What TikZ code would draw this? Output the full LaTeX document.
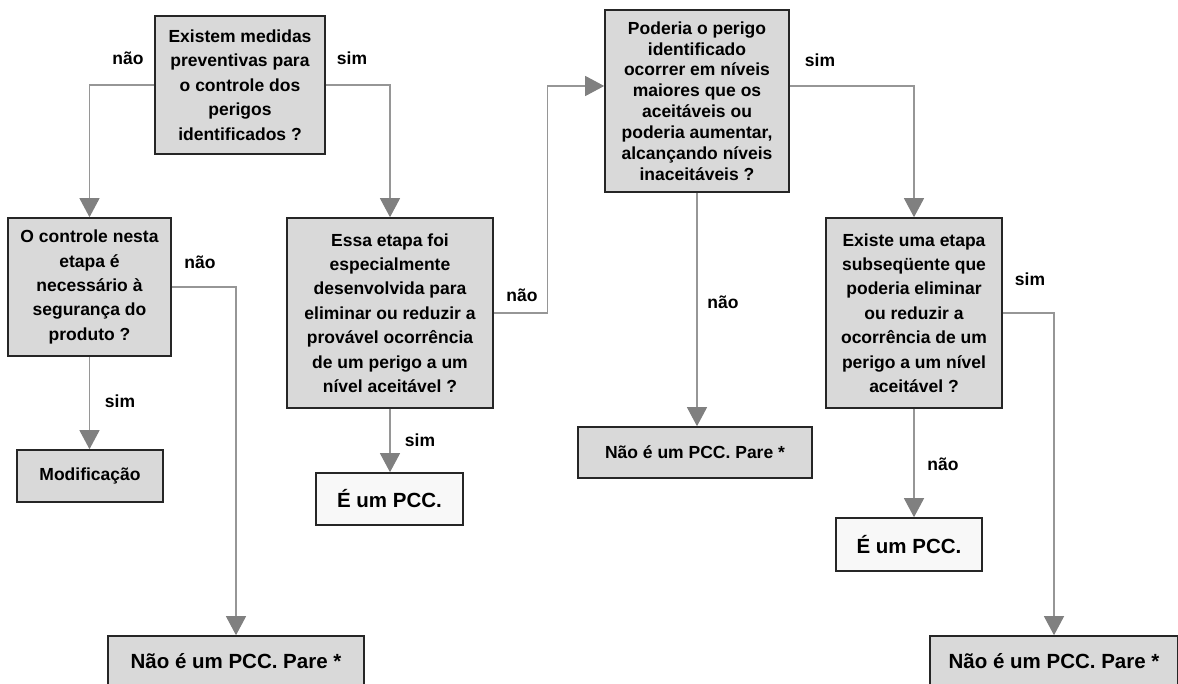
\documentclass[tikz,border=0pt]{standalone}
\usepackage{fontspec}
\setmainfont{Liberation Sans}
\usetikzlibrary{arrows.meta,positioning}
\definecolor{BoxGray}{RGB}{217,217,217}
\definecolor{PaleWhite}{RGB}{248,248,248}
\definecolor{EdgeDark}{RGB}{38,38,38}
\definecolor{LineGray}{RGB}{150,150,150}
\definecolor{TipGray}{RGB}{128,128,128}

\begin{document}
\begin{tikzpicture}[x=1pt,y=-1pt,
          qb/.style={draw=EdgeDark,line width=1.6pt,fill=BoxGray,align=center,inner sep=2pt,
                     font=\fontsize{17.5}{24.4}\selectfont\bfseries},
          tb/.style={qb,font=\fontsize{20.5}{24}\selectfont\bfseries},
          lb/.style={font=\fontsize{17.5}{21}\selectfont\bfseries},
          ar/.style={-{Triangle[width=20pt,length=19pt,color=TipGray]},line width=1.2pt,LineGray}
        ]
          \useasboundingbox (0,0) rectangle (1178,684);
          \clip (0,0) rectangle (1178,684);

          \node(q1)[qb,minimum width=170pt,minimum height=138pt] at (240,85)
            {Existem medidas\\preventivas para\\o controle dos\\perigos\\identificados ?};
          \node(q2)[qb,minimum width=163pt,minimum height=138pt] at (89.5,287)
            {O controle nesta\\etapa é\\necessário à\\segurança do\\produto ?};
          \node(q3)[qb,minimum width=206pt,minimum height=190pt] at (390,313)
            {Essa etapa foi\\especialmente\\desenvolvida para\\eliminar ou reduzir a\\provável ocorrência\\de um perigo a um\\nível aceitável ?};
          \node(q4)[qb,minimum width=184pt,minimum height=182pt,font=\fontsize{17.5}{20.9}\selectfont\bfseries] at (697,101)
            {Poderia o perigo\\identificado\\ocorrer em níveis\\maiores que os\\aceitáveis ou\\poderia aumentar,\\alcançando níveis\\inaceitáveis ?};
          \node(q5)[qb,minimum width=176pt,minimum height=190pt] at (914,313)
            {Existe uma etapa\\subseqüente que\\poderia eliminar\\ou reduzir a\\ocorrência de um\\perigo a um nível\\aceitável ?};

          \node(m1)[qb,minimum width=146pt,minimum height=52pt] at (90,476) {Modificação};
          \node(t1)[tb,fill=PaleWhite,minimum width=147pt,minimum height=52pt] at (389.5,499) {É um PCC.};
          \node(t2)[tb,fill=PaleWhite,minimum width=146pt,minimum height=53pt] at (909,544.5) {É um PCC.};
          \node(n1)[tb,minimum width=256pt,minimum height=50pt] at (236,661) {Não é um PCC. Pare *};
          \node(n2)[qb,minimum width=234pt,minimum height=51pt] at (695,452.5) {Não é um PCC. Pare *};
          \node(n3)[tb,minimum width=248pt,minimum height=50pt] at (1054,661) {Não é um PCC. Pare *};

          \node(l1)[lb] at (128,58) {não};
          \node(l2)[lb] at (352,58) {sim};
          \node(l3)[lb] at (200,262) {não};
          \node(l4)[lb] at (120,401) {sim};
          \node(l5)[lb] at (522,295) {não};
          \node(l6)[lb] at (420,440) {sim};
          \node(l7)[lb] at (820,60) {sim};
          \node(l8)[lb] at (723,302) {não};
          \node(l9)[lb] at (1030,279) {sim};
          \node(l10)[lb] at (943,464) {não};

          \draw[ar] (q1.west) -| (q2.north);
          \draw[ar] (q1.east) -| (q3.north);
          \draw[ar] (q2.east) -| (n1.north);
          \draw[ar] (q2.south) -- (q2.south |- m1.north);
          \draw[ar] (q3.south) -- (q3.south |- t1.north);
          \draw[ar] (q3.east) -- ++(54,0) |- ([yshift=15pt]q4.west);
          \draw[ar] ([yshift=15pt]q4.east) -| (q5.north);
          \draw[ar] (q4.south) -- (q4.south |- n2.north);
          \draw[ar] (q5.south) -- (q5.south |- t2.north);
          \draw[ar] (q5.east) -| (n3.north);
        \end{tikzpicture}
\end{document}
